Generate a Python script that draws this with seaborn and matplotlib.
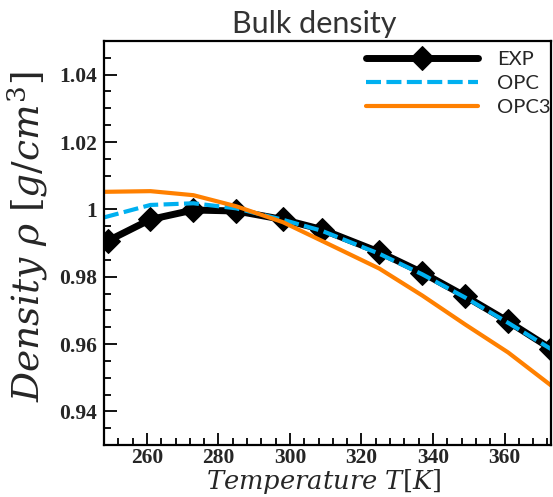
import matplotlib
matplotlib.use("Agg")
import matplotlib.pyplot as plt
import numpy as np
import pandas as pd
import seaborn as sns
from matplotlib.ticker import MultipleLocator, FuncFormatter

# Measured bulk density of water and two water models
temps_exp = [249, 261, 273, 285, 298, 309, 325, 337, 349, 361, 373]
rho_exp = [0.9906, 0.9970, 0.9998, 0.9995, 0.9970, 0.9940, 0.9873, 0.9812, 0.9742, 0.9667, 0.9586]

temps_sim = [248, 261, 273, 285, 298, 309, 325, 337, 349, 361, 373]
rho_opc = [0.9976, 1.0013, 1.0018, 1.0003, 0.9969, 0.9936, 0.9868, 0.9807, 0.9738, 0.9663, 0.9585]
rho_opc3 = [1.0052, 1.0054, 1.0042, 1.0009, 0.9962, 0.9906, 0.9824, 0.9744, 0.9658, 0.9575, 0.9477]

series_names = ["EXP", "OPC", "OPC3"]

sns.set_style("white")
plt.rcParams["mathtext.fontset"] = "dejavuserif"

fig = plt.figure(figsize=(5.53, 4.97), dpi=100)
ax = fig.add_axes([104 / 553, 52 / 497, 447 / 553, 404 / 497])

sns.lineplot(x=temps_exp, y=rho_exp, ax=ax, color="black", linewidth=5,
             marker="D", markersize=12, markeredgecolor="black",
             label=series_names[0])
sns.lineplot(x=temps_sim, y=rho_opc, ax=ax, color="#00B0F0", linewidth=3,
             linestyle=(0, (3.6, 1.3)), label=series_names[1])
sns.lineplot(x=temps_sim, y=rho_opc3, ax=ax, color="#FF8000", linewidth=3,
             label=series_names[2])

ax.set_xlim(248, 373)
ax.set_ylim(0.93, 1.05)

ax.xaxis.set_major_locator(MultipleLocator(20))
ax.xaxis.set_minor_locator(MultipleLocator(4))
ax.yaxis.set_major_locator(MultipleLocator(0.02))
ax.yaxis.set_minor_locator(MultipleLocator(0.005))
ax.yaxis.set_major_formatter(FuncFormatter(lambda v, p: f"{v:g}"))
ax.xaxis.set_major_formatter(FuncFormatter(lambda v, p: f"{v:g}"))

ax.tick_params(which="both", direction="in", left=True, bottom=True,
               right=False, top=False, width=1.3, color="black")
ax.tick_params(which="major", length=9)
ax.tick_params(axis="y", which="major", pad=5)
ax.tick_params(axis="x", which="major", pad=2.5)
ax.tick_params(which="minor", length=5)
for lab in ax.get_xticklabels() + ax.get_yticklabels():
    lab.set_fontfamily("Liberation Serif")
    lab.set_fontweight("bold")
    lab.set_fontsize(15.5)

for sp in ax.spines.values():
    sp.set_color("black")
    sp.set_linewidth(1.6)

ax.set_xlabel(r"$Temperature\ T[K]$", fontsize=18.5)
ax.xaxis.label.set_va("bottom")
ax.xaxis.set_label_coords(0.492, (445 - 496.5) / 404)
ax.set_ylabel(r"$Density\ \rho\ [g/cm^3]$", fontsize=27)
ax.yaxis.set_label_coords(-0.12, 0.515)
ax.set_title("Bulk density", fontsize=22, fontfamily="Lato", color="#333333",
             x=0.47, pad=6)

leg = ax.legend(loc="upper left", bbox_to_anchor=(0.586, 0.975), frameon=False,
                prop={"family": "Lato", "size": 14.5},
                handlelength=5.55, labelspacing=0.35, handletextpad=0.95,
                borderaxespad=0, borderpad=0)

fig.savefig("out.png", dpi=100)
